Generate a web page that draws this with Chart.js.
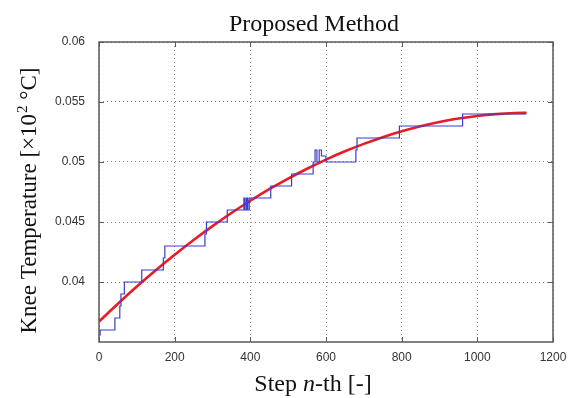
<!DOCTYPE html>
<html>
<head>
<meta charset="utf-8">
<script src="https://cdn.jsdelivr.net/npm/chart.js@4.4.1/dist/chart.umd.min.js"></script>
<style>
  html, body { margin: 0; padding: 0; background: #fff; }
  #wrap { width: 575px; height: 398px; }
</style>
</head>
<body>
<div id="wrap"><canvas id="grafico"></canvas></div>
<script>
// datos leidos de la imagen
// escalera azul: x donde empieza el nuevo valor, valor
var pasoX = [0, 3, 42, 55, 58, 67, 113, 170, 174, 280, 284, 339, 383, 386, 390, 393, 397, 454, 509, 566, 571, 576, 582, 588, 600, 679, 682, 794, 961, 1130];
var pasoY = [0.0356, 0.036, 0.037, 0.038, 0.039, 0.040, 0.041, 0.042, 0.043, 0.044, 0.045, 0.046, 0.047, 0.046, 0.047, 0.046, 0.047, 0.048, 0.049, 0.050, 0.051, 0.050, 0.051, 0.0505, 0.050, 0.051, 0.052, 0.053, 0.054, 0.054];
// curva roja ajustada
var curvaX = [0, 50, 100, 150, 200, 250, 300, 350, 400, 450, 500, 550, 600, 650, 700, 750, 800, 850, 900, 950, 1000, 1050, 1100, 1130];
var curvaY = [0.0367, 0.03819, 0.03962, 0.04098, 0.04227, 0.0435, 0.04466, 0.04575, 0.04677, 0.04773, 0.04862, 0.04944, 0.0502, 0.05089, 0.05151, 0.05207, 0.05256, 0.05298, 0.05333, 0.05362, 0.05384, 0.05399, 0.05408, 0.0541];
// ticks
var ticksX = [0, 200, 400, 600, 800, 1000, 1200];
var ticksY = [0.04, 0.045, 0.05, 0.055, 0.06];

var datosPaso = pasoX.map(function(x, i){ return {x: x, y: pasoY[i]}; });
var datosCurva = curvaX.map(function(x, i){ return {x: x, y: curvaY[i]}; });

// caja, ticks hacia adentro y titulos
var cajaPlugin = {
	id: 'caja',
	afterDraw: function(chart){
		var ctx = chart.ctx;
		var a = chart.chartArea;
		var sx = chart.scales.x, sy = chart.scales.y;
		ctx.save();
		ctx.strokeStyle = '#5a5a5a';
		ctx.lineWidth = 1.5;
		ctx.strokeRect(a.left, a.top, a.right - a.left, a.bottom - a.top);
		ctx.lineWidth = 1;
		ctx.beginPath();
		ticksX.forEach(function(v){
			var px = Math.round(sx.getPixelForValue(v)) + 0.5;
			ctx.moveTo(px, a.bottom); ctx.lineTo(px, a.bottom - 5);
			ctx.moveTo(px, a.top); ctx.lineTo(px, a.top + 5);
		});
		ticksY.forEach(function(v){
			var py = Math.round(sy.getPixelForValue(v)) + 0.5;
			ctx.moveTo(a.left, py); ctx.lineTo(a.left + 5, py);
			ctx.moveTo(a.right, py); ctx.lineTo(a.right - 5, py);
		});
		ctx.stroke();

		// titulo
		ctx.fillStyle = '#111';
		ctx.textBaseline = 'alphabetic';
		ctx.textAlign = 'center';
		ctx.font = '24px "Liberation Serif"';
		ctx.fillText('Proposed Method', 314, 31);

		// titulo eje x con n en cursiva
		var partes = [['Step ', 'normal'], ['n', 'italic'], ['-th [-]', 'normal']];
		var total = 0;
		partes.forEach(function(p){
			ctx.font = p[1] + ' 24px "Liberation Serif"';
			total += ctx.measureText(p[0]).width;
		});
		var x0 = 313 - total / 2;
		ctx.textAlign = 'left';
		partes.forEach(function(p){
			ctx.font = p[1] + ' 24px "Liberation Serif"';
			ctx.fillText(p[0], x0, 391);
			x0 += ctx.measureText(p[0]).width;
		});

		// titulo eje y con superindice
		ctx.translate(36, 201);
		ctx.rotate(-Math.PI / 2);
		var t1 = 'Knee Temperature [\u00d710', t2 = '2', t3 = ' \u00b0C]';
		ctx.font = '23px "Liberation Serif"';
		var w1 = ctx.measureText(t1).width, w3 = ctx.measureText(t3).width;
		ctx.font = '15px "Liberation Serif"';
		var w2 = ctx.measureText(t2).width;
		var xs = -(w1 + w2 + w3) / 2;
		ctx.font = '23px "Liberation Serif"';
		ctx.fillText(t1, xs, 0);
		ctx.font = '15px "Liberation Serif"';
		ctx.fillText(t2, xs + w1 + 1, -9);
		ctx.font = '23px "Liberation Serif"';
		ctx.fillText(t3, xs + w1 + w2 + 1, 0);
		ctx.restore();
	}
};

var miGrafico = new Chart('grafico', {
	type: 'scatter',
	data: {
		datasets: [{
			label: 'Pasos',
			data: datosPaso,
			showLine: true,
			stepped: true,
			borderColor: 'rgb(60, 60, 205)',
			borderWidth: 1.2,
			pointRadius: 0,
			fill: false
		}, {
			label: 'Ajuste',
			data: datosCurva,
			showLine: true,
			tension: 0.4,
			borderColor: 'rgb(232, 28, 36)',
			borderWidth: 2.6,
			pointRadius: 0,
			fill: false
		}]	// datasets
	},	// data
	options: {
		responsive: true,
		maintainAspectRatio: false,
		animation: false,
		layout: { padding: { left: 0, right: 22, top: 42, bottom: 0 } },
		plugins: {
			legend: { display: false },
			tooltip: { enabled: false }
		},
		scales: {
			x: {
				type: 'linear',
				min: 0,
				max: 1200,
				afterBuildTicks: function(scale){ scale.ticks = ticksX.map(function(v){ return {value: v}; }); },
				afterFit: function(scale){ scale.height = 56; },
				grid: { color: '#8c8c8c', lineWidth: 1, drawTicks: false },
				border: { display: false, dash: [1, 3] },
				ticks: {
					padding: 8,
					color: '#333',
					font: { family: '"Liberation Sans"', size: 12 },
					maxRotation: 0,
					callback: function(v){ return String(v); }
				}
			},
			y: {
				type: 'linear',
				min: 0.035,
				max: 0.06,
				afterBuildTicks: function(scale){ scale.ticks = ticksY.map(function(v){ return {value: v}; }); },
				afterFit: function(scale){ scale.width = 99; },
				grid: { color: '#8c8c8c', lineWidth: 1, drawTicks: false },
				border: { display: false, dash: [1, 3] },
				ticks: {
					padding: 14,
					color: '#333',
					font: { family: '"Liberation Sans"', size: 12 },
					callback: function(v){ return String(+v.toFixed(3)); }
				}
			}
		}
	},
	plugins: [cajaPlugin]
});
</script>
</body>
</html>
